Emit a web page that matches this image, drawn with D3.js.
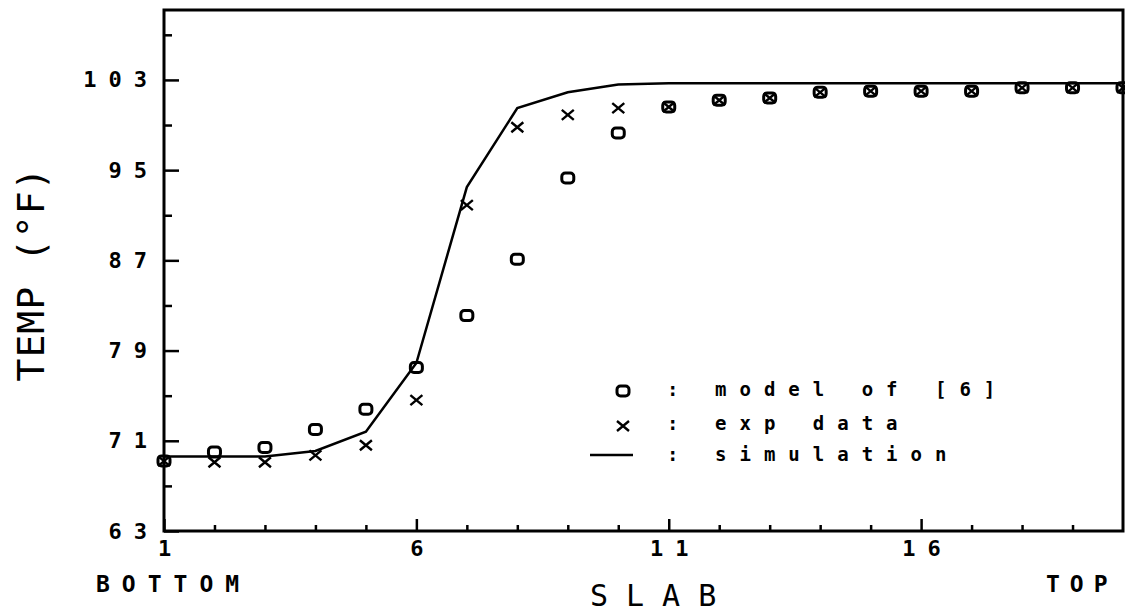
<!DOCTYPE html>
<html>
<head>
<meta charset="utf-8">
<script src="https://cdn.jsdelivr.net/npm/d3@7"></script>
<style>
  body { margin: 0; background: #fff; }
  text { font-family: "DejaVu Sans Mono", "Liberation Mono", monospace; fill: #000; }
</style>
</head>
<body>
<div id="chart"></div>
<script>
// slab temperatures
const slabs = [1, 2, 3, 4, 5, 6, 7, 8, 9, 10, 11, 12, 13, 14, 15, 16, 17, 18, 19, 20];
const modelTemp = [69.2, 70.0, 70.4, 72.0, 73.8, 77.5, 82.1, 87.1, 94.3, 98.3, 100.6, 101.2, 101.4, 101.9, 102.0, 102.0, 102.0, 102.3, 102.3, 102.3];
const expTemp = [69.2, 69.1, 69.1, 69.7, 70.6, 74.6, 91.9, 98.8, 99.9, 100.5, 100.6, 101.2, 101.4, 101.9, 102.0, 102.0, 102.0, 102.3, 102.3, 102.3];
const simTemp = [69.6, 69.6, 69.6, 70.1, 71.8, 77.9, 93.5, 100.5, 101.9, 102.6, 102.7, 102.7, 102.7, 102.7, 102.7, 102.7, 102.7, 102.7, 102.7, 102.7];

const yMajor = [63, 71, 79, 87, 95, 103];
const yMinor = [67, 75, 83, 91, 99, 107];
const xMajor = [1, 6, 11, 16];
const xMinor = [2, 3, 4, 5, 7, 8, 9, 10, 12, 13, 14, 15, 17, 18, 19];

const legendItems = ["model of [6]", "exp data", "simulation"];

(function () {
  const width = 1125, height = 613;
  const svg = d3.select("#chart").append("svg")
    .attr("width", width).attr("height", height);

  const left = 164, right = 1123, top = 10, bottom = 531;
  const x = d3.scaleLinear().domain([1, 20]).range([left, right]);
  const y = d3.scaleLinear().domain([63, 109.2]).range([bottom, top]);

  const tickLs = 12;

  // y axis
  const gy = svg.append("g").attr("transform", `translate(${left},0)`);
  gy.call(d3.axisLeft(y).tickValues(yMajor).tickSize(-15).tickSizeOuter(0).tickPadding(17 - tickLs));
  gy.append("g").call(d3.axisLeft(y).tickValues(yMinor).tickSize(-8).tickSizeOuter(0).tickFormat(""));

  // x axis
  const gx = svg.append("g").attr("transform", `translate(0,${bottom})`);
  gx.call(d3.axisBottom(x).tickValues(xMajor).tickSize(-12).tickSizeOuter(0).tickPadding(9));
  gx.append("g").call(d3.axisBottom(x).tickValues(xMinor).tickSize(-6).tickSizeOuter(0).tickFormat(""));

  svg.selectAll(".domain").remove();
  svg.selectAll(".tick line").attr("stroke", "#000").attr("stroke-width", 2.5);
  svg.selectAll(".tick text")
    .style("font-size", "22px")
    .style("font-weight", "bold")
    .style("letter-spacing", tickLs + "px")
    .attr("fill", "#000");
  gx.selectAll(".tick text").attr("dx", tickLs / 2);

  // frame
  svg.append("rect")
    .attr("x", left).attr("y", top)
    .attr("width", right - left).attr("height", bottom - top)
    .attr("fill", "none").attr("stroke", "#000").attr("stroke-width", 3);

  // simulation line
  const line = d3.line().x((d, i) => x(slabs[i])).y(d => y(d));
  svg.append("path")
    .datum(simTemp)
    .attr("d", line)
    .attr("fill", "none")
    .attr("stroke", "#000")
    .attr("stroke-width", 2.5);

  const drawO = (g) => g.append("rect")
    .attr("x", -6).attr("y", -5).attr("width", 12).attr("height", 10).attr("rx", 3.5)
    .attr("fill", "none").attr("stroke", "#000").attr("stroke-width", 3);
  const drawX = (g) => g.append("path")
    .attr("d", "M-6,-5L6,5M-6,5L6,-5")
    .attr("fill", "none").attr("stroke", "#000").attr("stroke-width", 2.4);

  // model of [6]
  svg.append("g").selectAll("g")
    .data(modelTemp)
    .enter().append("g")
    .attr("transform", (d, i) => `translate(${x(slabs[i])},${y(d)})`)
    .each(function () { drawO(d3.select(this)); });

  // exp data
  svg.append("g").selectAll("g")
    .data(expTemp)
    .enter().append("g")
    .attr("transform", (d, i) => `translate(${x(slabs[i])},${y(d)})`)
    .each(function () { drawX(d3.select(this)); });

  // legend
  const leg = svg.append("g");
  const rows = [396, 430, 461];
  drawO(leg.append("g").attr("transform", `translate(623,${rows[0] - 5})`));
  drawX(leg.append("g").attr("transform", `translate(623,${rows[1] - 4})`));
  leg.append("line").attr("x1", 590).attr("x2", 633)
    .attr("y1", rows[2] - 6).attr("y2", rows[2] - 6)
    .attr("stroke", "#000").attr("stroke-width", 2.5);
  leg.selectAll("text.colon")
    .data(legendItems).enter().append("text")
    .attr("class", "colon")
    .attr("x", 667).attr("y", (d, i) => rows[i])
    .style("font-size", "19px").style("font-weight", "bold")
    .text(":");
  leg.selectAll("text.lbl")
    .data(legendItems).enter().append("text")
    .attr("class", "lbl")
    .attr("x", 715).attr("y", (d, i) => rows[i])
    .style("font-size", "19px").style("font-weight", "bold").style("letter-spacing", "13px")
    .text(d => d);

  // axis titles
  svg.append("text")
    .attr("transform", "translate(44,274) rotate(-90)")
    .attr("text-anchor", "middle")
    .style("font-size", "38px").style("letter-spacing", "1px")
    .text("TEMP (°F)");

  svg.append("text")
    .attr("x", 590).attr("y", 606)
    .style("font-size", "30px").style("letter-spacing", "18px")
    .text("SLAB");

  svg.append("text")
    .attr("x", 96).attr("y", 592)
    .style("font-size", "23px").style("font-weight", "bold").style("letter-spacing", "12px")
    .text("BOTTOM");

  svg.append("text")
    .attr("x", 1046).attr("y", 592)
    .style("font-size", "23px").style("font-weight", "bold").style("letter-spacing", "10px")
    .text("TOP");
})();
</script>
</body>
</html>
